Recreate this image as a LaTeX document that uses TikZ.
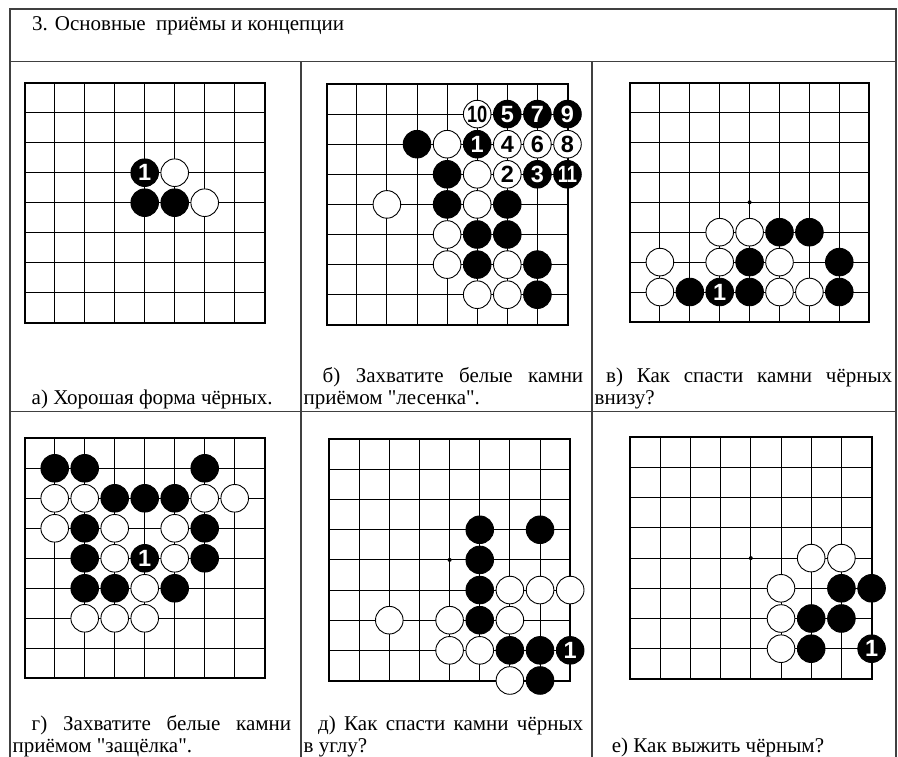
\documentclass[tikz,border=0pt]{standalone}
\usepackage{fontspec}
\setmainfont{Liberation Serif}
\newfontfamily\capfont{Liberation Serif}
\newfontfamily\numfont{Liberation Sans}
\newfontfamily\numfontn[FakeStretch=0.78]{Liberation Sans}
\tikzset{
  tableline/.style={draw=black!75, line width=1.4pt},
  gridline/.style={draw=black, line width=0.9pt},
  boardedge/.style={draw=black, line width=2pt},
  stonebase/.style={circle, minimum size=27.6pt, inner sep=0pt, line width=0.9pt,
     font=\numfont\bfseries\fontsize{23.5}{23.5}\selectfont},
  bstone/.style={stonebase, fill=black, draw=black, text=white},
  wstone/.style={stonebase, fill=white, draw=black, text=black},
  capt/.style={anchor=base west, inner sep=0pt, font=\capfont\fontsize{21}{24}\selectfont},
}
\newcommand{\goboard}{%
  \foreach \i in {0,...,8} {%
    \draw[gridline] (\i*\st,0) -- (\i*\st,8*\st);
    \draw[gridline] (0,\i*\st) -- (8*\st,\i*\st);
  }%
  \draw[boardedge] (0,0) rectangle (8*\st,8*\st);
  \fill (4*\st,4*\st) circle[radius=2pt];
}
\begin{document}
\begin{tikzpicture}[x=1pt,y=-1pt]
\useasboundingbox (0,0) rectangle (898,757);
% table
\draw[tableline] (10,757) -- (10,9) -- (896,9) -- (896,757);
\draw[tableline] (10,61.7) -- (896,61.7);
\draw[tableline] (10,411.7) -- (896,411.7);
\draw[tableline] (301,61.7) -- (301,757);
\draw[tableline] (592,61.7) -- (592,757);
\node[capt] (title) at (32,31) {3. Основные\ \ приёмы и концепции};

% board a
\begin{scope}[shift={(24.7,82.7)}]
\def\st{30}
\goboard
\foreach \c/\r in {4/4,5/4} \node[bstone] (a-\c-\r) at (\c*\st,\r*\st) {};
\foreach \c/\r/\t in {4/3/1} \node[bstone] (a-\c-\r) at (\c*\st,\r*\st) {\t};
\foreach \c/\r in {5/3,6/4} \node[wstone] (a-\c-\r) at (\c*\st,\r*\st) {};
\end{scope}

% board b
\begin{scope}[shift={(326.7,84)}]
\def\st{30.1}
\goboard
\foreach \c/\r in {3/2,4/3,4/4,6/4,5/5,6/5,5/6,7/6,7/7} \node[bstone] (b-\c-\r) at (\c*\st,\r*\st) {};
\foreach \c/\r/\t in {6/1/5,7/1/7,8/1/9,5/2/1,7/3/3,8/3/{\numfontn 11}} \node[bstone] (b-\c-\r) at (\c*\st,\r*\st) {\t};
\foreach \c/\r in {4/2,5/3,2/4,5/4,4/5,4/6,6/6,5/7,6/7} \node[wstone] (b-\c-\r) at (\c*\st,\r*\st) {};
\foreach \c/\r/\t in {5/1/{\numfontn 10},6/2/4,7/2/6,8/2/8,6/3/2} \node[wstone] (b-\c-\r) at (\c*\st,\r*\st) {\t};
\end{scope}

% board c
\begin{scope}[shift={(630,82.7)}]
\def\st{29.9}
\goboard
\foreach \c/\r in {5/5,6/5,4/6,7/6,2/7,4/7,7/7} \node[bstone] (c-\c-\r) at (\c*\st,\r*\st) {};
\foreach \c/\r/\t in {3/7/1} \node[bstone] (c-\c-\r) at (\c*\st,\r*\st) {\t};
\foreach \c/\r in {3/5,4/5,1/6,3/6,5/6,1/7,5/7,6/7} \node[wstone] (c-\c-\r) at (\c*\st,\r*\st) {};
\end{scope}

% board d
\begin{scope}[shift={(24.7,438.3)}]
\def\st{30}
\goboard
\foreach \c/\r in {1/1,2/1,6/1,3/2,4/2,5/2,2/3,6/3,2/4,6/4,2/5,3/5,5/5} \node[bstone] (d-\c-\r) at (\c*\st,\r*\st) {};
\foreach \c/\r/\t in {4/4/1} \node[bstone] (d-\c-\r) at (\c*\st,\r*\st) {\t};
\foreach \c/\r in {1/2,2/2,6/2,7/2,1/3,3/3,5/3,3/4,5/4,4/5,2/6,3/6,4/6} \node[wstone] (d-\c-\r) at (\c*\st,\r*\st) {};
\end{scope}

% board e
\begin{scope}[shift={(329,439.3)}]
\def\st{30.15}
\goboard
\foreach \c/\r in {5/3,7/3,5/4,5/5,5/6,6/7,7/7,7/8} \node[bstone] (e-\c-\r) at (\c*\st,\r*\st) {};
\foreach \c/\r/\t in {8/7/1} \node[bstone] (e-\c-\r) at (\c*\st,\r*\st) {\t};
\foreach \c/\r in {6/5,7/5,8/5,2/6,4/6,6/6,4/7,5/7,6/8} \node[wstone] (e-\c-\r) at (\c*\st,\r*\st) {};
\end{scope}

% board f
\begin{scope}[shift={(630,437.3)}]
\def\st{30.2}
\goboard
\foreach \c/\r in {7/5,8/5,6/6,7/6,6/7} \node[bstone] (f-\c-\r) at (\c*\st,\r*\st) {};
\foreach \c/\r/\t in {8/7/1} \node[bstone] (f-\c-\r) at (\c*\st,\r*\st) {\t};
\foreach \c/\r in {6/4,7/4,5/5,5/6,5/7} \node[wstone] (f-\c-\r) at (\c*\st,\r*\st) {};
\end{scope}

% captions
\node[capt] (capA) at (31.5,404) {а) Хорошая форма чёрных.};
\node[capt] (capB1) at (322.5,382) {\makebox[260.5pt][s]{б) Захватите белые камни}};
\node[capt] (capB2) at (303.5,404) {приёмом "лесенка".};
\node[capt] (capC1) at (606,382) {\makebox[286pt][s]{в) Как спасти камни чёрных}};
\node[capt] (capC2) at (594.5,404) {внизу?};
\node[capt] (capD1) at (31.5,730.5) {\makebox[259.5pt][s]{г) Захватите белые камни}};
\node[capt] (capD2) at (12.5,752.5) {приёмом "защёлка".};
\node[capt] (capE1) at (318,730.5) {\makebox[265pt][s]{д) Как спасти камни чёрных}};
\node[capt] (capE2) at (303.5,752.5) {в углу?};
\node[capt] (capF) at (611.7,752.5) {е) Как выжить чёрным?};
\end{tikzpicture}
\end{document}
